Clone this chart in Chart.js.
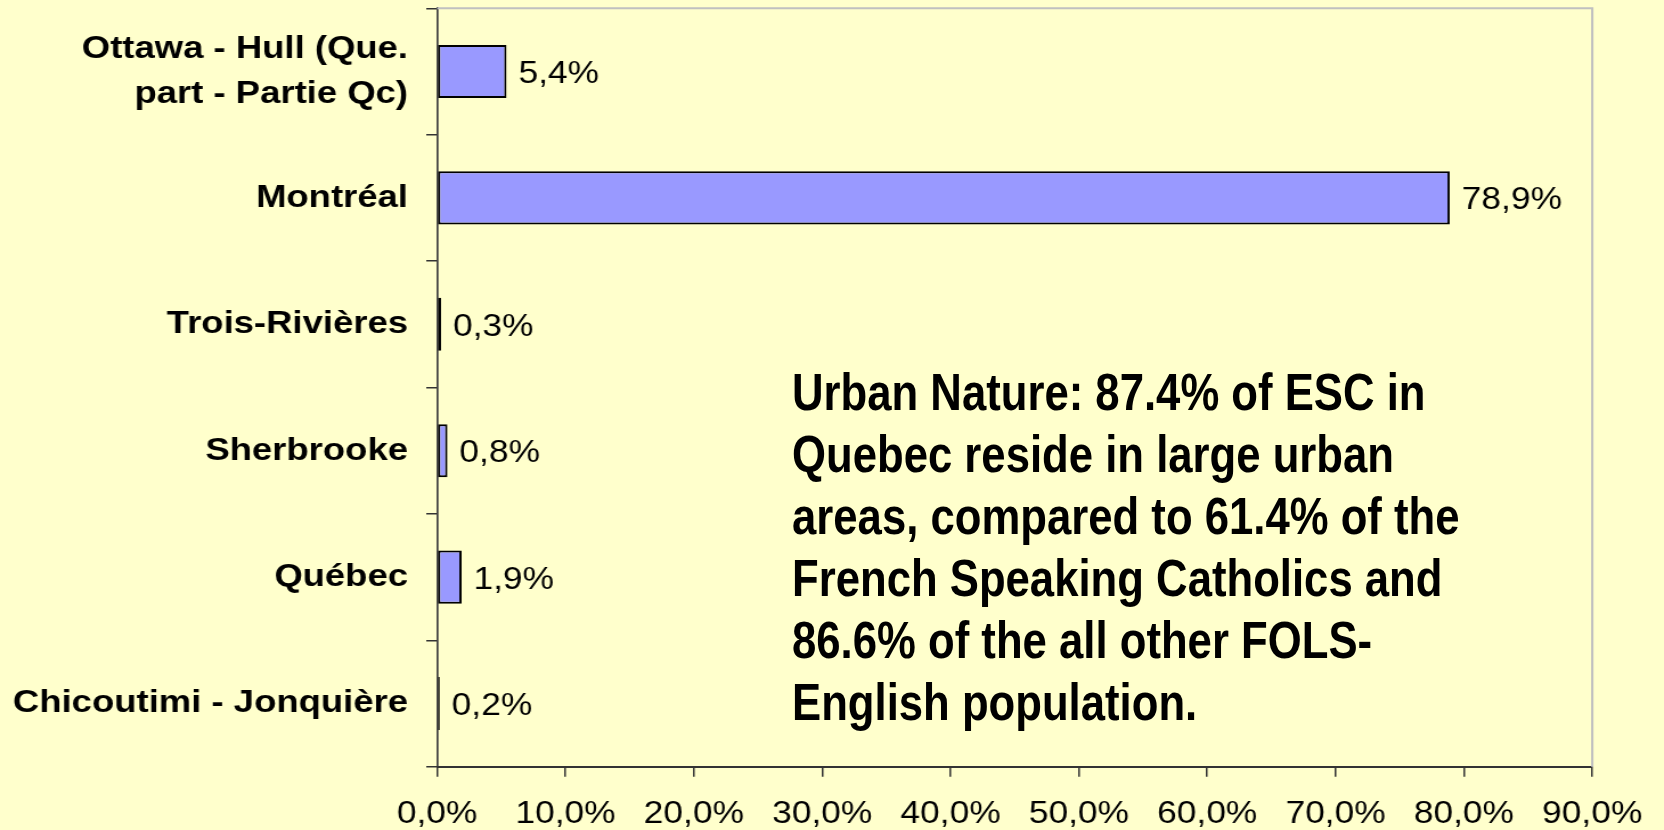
<!DOCTYPE html>
<html>
<head>
<meta charset="utf-8">
<script src="https://cdn.jsdelivr.net/npm/chart.js@4/dist/chart.umd.min.js"></script>
<style>
  html, body { margin: 0; padding: 0; background: #FFFFCC; overflow: hidden; }
  /* the reference is stretched horizontally, so draw narrower and scale X */
  #wrap { position: absolute; left: 0; top: 0; width: 1460px; height: 830px;
          transform: scaleX(1.1397); transform-origin: 0 0; }
  /* no narrow font installed: squeeze the bold sans instead */
  #note { position: absolute; left: 792px; top: 361px; white-space: nowrap;
          font-family: "Liberation Sans", Arial, sans-serif;
          font-weight: bold; font-size: 52px; line-height: 62px; color: #000;
          transform: scaleX(0.84); transform-origin: 0 0; }
</style>
</head>
<body>
<div id="wrap">
  <canvas id="chart" width="1460" height="830"></canvas>
</div>
<div id="note"></div>
<script>
// Urban areas share, Quebec
const cities = [
  ['Ottawa - Hull (Que.', 'part - Partie Qc)'],
  'Montréal',
  'Trois-Rivières',
  'Sherbrooke',
  'Québec',
  'Chicoutimi - Jonquière'
];
const shares = [5.4, 78.9, 0.3, 0.8, 1.9, 0.2];
const axisMax = 90;
const axisStep = 10;
const noteLines = [
  'Urban Nature: 87.4% of ESC in',
  'Quebec reside in large urban',
  'areas, compared to 61.4% of the',
  'French Speaking Catholics and',
  '86.6% of the all other FOLS-',
  'English population.'
];

document.getElementById('note').innerHTML = noteLines.join('<br>');

const pct = (v) => v.toFixed(1).replace('.', ',') + '%';

// gray frame on top and right of the plot
const frame = {
  id: 'frame',
  beforeDatasetsDraw(chart) {
    const { ctx, chartArea: a } = chart;
    ctx.save();
    ctx.strokeStyle = '#c0c0c0';
    ctx.lineWidth = 2;
    ctx.beginPath();
    ctx.moveTo(a.left, a.top);
    ctx.lineTo(a.right, a.top);
    ctx.lineTo(a.right, a.bottom);
    ctx.stroke();
    ctx.restore();
  }
};

// value labels at bar ends
const valueLabels = {
  id: 'valueLabels',
  afterDatasetsDraw(chart) {
    const { ctx } = chart;
    const meta = chart.getDatasetMeta(0);
    ctx.save();
    ctx.font = '31px "Liberation Sans", Arial, sans-serif';
    ctx.fillStyle = '#000';
    ctx.textAlign = 'left';
    ctx.textBaseline = 'middle';
    meta.data.forEach((bar, i) => {
      ctx.fillText(pct(shares[i]), bar.x + 10.5, bar.y + 3);
    });
    ctx.restore();
  }
};

new Chart(document.getElementById('chart'), {
  type: 'bar',
  data: {
    labels: cities,
    datasets: [{
      data: shares,
      backgroundColor: '#9999FF',
      borderColor: '#000000',
      borderWidth: 2,
      borderSkipped: false,
      barPercentage: 0.42,
      categoryPercentage: 1.0
    }]
  },
  options: {
    indexAxis: 'y',
    responsive: false,
    devicePixelRatio: 1,
    animation: false,
    layout: { padding: { top: 8.3, right: 61.6, left: 0, bottom: 0 } },
    plugins: { legend: { display: false }, tooltip: { enabled: false } },
    scales: {
      y: {
        afterFit: (s) => { s.width = 383.6; s.paddingTop = 0; s.paddingBottom = 0; },
        grid: { drawOnChartArea: false, drawTicks: true, tickLength: 9.6, color: '#333', lineWidth: 1.5, offset: true },
        border: { display: true, color: '#404040', width: 1.75 },
        ticks: {
          color: '#000',
          padding: 16,
          font: { family: '"Liberation Sans", Arial, sans-serif', size: 32, weight: 'bold', lineHeight: 1.42 }
        }
      },
      x: {
        min: 0,
        max: axisMax,
        afterFit: (s) => { s.height = 63.3; },
        grid: { drawOnChartArea: false, drawTicks: true, tickLength: 10, color: '#333', lineWidth: 1.5 },
        border: { display: true, color: '#333', width: 2 },
        ticks: {
          stepSize: axisStep,
          color: '#000',
          padding: 19,
          maxRotation: 0,
          font: { family: '"Liberation Sans", Arial, sans-serif', size: 31 },
          callback: (v) => pct(v)
        }
      }
    }
  },
  plugins: [frame, valueLabels]
});
</script>
</body>
</html>
